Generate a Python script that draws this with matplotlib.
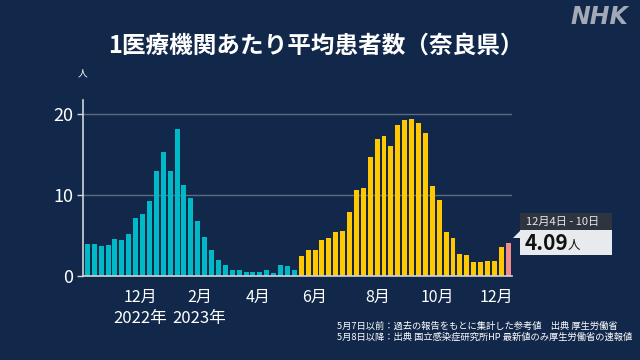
import numpy as np
import matplotlib
matplotlib.use("Agg")
import matplotlib.pyplot as plt
from matplotlib.patches import Rectangle, Polygon

plt.rcParams['font.family'] = ['Noto Sans CJK JP', 'DejaVu Sans']

# weekly average patients per medical institution (Nara), Oct 2022 - Dec 2023
before = [3.9, 4.0, 3.75, 3.8, 4.55, 4.4, 5.15, 7.2, 7.7, 9.2,
          13.0, 15.3, 12.9, 18.1, 11.2, 9.6, 6.75, 4.8, 3.2, 2.0,
          1.3, 0.8, 0.8, 0.5, 0.5, 0.5, 0.7, 0.4, 1.35, 1.2, 0.8]
after = [2.5, 3.25, 3.25, 4.5, 4.65, 5.4, 5.6, 7.9, 10.6, 10.9,
         14.7, 16.9, 17.3, 16.0, 18.6, 19.25, 19.4, 18.9, 17.6, 11.1,
         9.4, 5.4, 4.65, 2.75, 2.55, 1.7, 1.75, 1.9, 1.9, 3.6]
latest = 4.09
latest_label = '12月4日 - 10日'

month_ticks = [7.7, 16.3, 24.7, 33.0, 42.1, 50.8, 59.3]
month_labels = ['12月', '2月', '4月', '6月', '8月', '10月', '12月']
year_labels = ['2022年', '2023年']

bg = '#12284a'
teal = '#00b9c6'
yellow = '#ffc800'
pink = '#f08c8c'

fig = plt.figure(figsize=(6.4, 3.6), dpi=100, facecolor=bg)
ax = fig.add_axes([0.130, 0.2333, 0.670, 0.489])
ax.set_facecolor(bg)

n1 = len(before)
n2 = len(after)
x1 = np.arange(n1)
x2 = np.arange(n1, n1 + n2)
x3 = n1 + n2
w = 0.72
ax.bar(x1, before, width=w, color=teal, zorder=3)
ax.bar(x2, after, width=w, color=yellow, zorder=3)
ax.bar([x3], [latest], width=w, color=pink, zorder=3)

ax.set_xlim(-0.6, x3 + 0.55)
ax.set_ylim(0, 21.7)
ax.set_yticks([0, 10, 20])
ax.yaxis.grid(True, color='#5b6a80', linewidth=1.0, zorder=1)
ax.tick_params(axis='y', colors='#d0d4da', length=4, width=1, pad=3,
               labelsize=13, labelcolor='white')
ax.set_xticks(month_ticks)
ax.set_xticklabels(month_labels)
ax.tick_params(axis='x', length=0, pad=9, labelsize=11.5, labelcolor='white')

for s in ['top', 'right']:
    ax.spines[s].set_visible(False)
for s in ['left', 'bottom']:
    ax.spines[s].set_color('#d0d4da')
    ax.spines[s].set_linewidth(1.2)
    ax.spines[s].set_zorder(4)

fig.text(140 / 640, 1 - 318 / 360, year_labels[0], color='white', fontsize=12,
         ha='center', va='center')
fig.text(199 / 640, 1 - 318 / 360, year_labels[1], color='white', fontsize=12,
         ha='center', va='center')
fig.text(83 / 640, 1 - 73 / 360, '人', color='white', fontsize=7,
         ha='center', va='center')

fig.text(316 / 640, 1 - 46 / 360, '1医療機関あたり平均患者数（奈良県）', color='white',
         fontsize=17, fontweight='bold', ha='center', va='center')
fig.text(628 / 640, 1 - 17 / 360, 'NHK', color='#a3aab5', fontsize=17,
         fontweight='bold', style='italic', ha='right', va='center',
         family='DejaVu Sans')

# latest value callout
fig.patches.append(Rectangle((520 / 640, 1 - 230 / 360), 92 / 640, 17 / 360,
                             transform=fig.transFigure, facecolor='#2e3540',
                             edgecolor='none'))
fig.patches.append(Rectangle((520 / 640, 1 - 255 / 360), 92 / 640, 25 / 360,
                             transform=fig.transFigure, facecolor='#e8ebee',
                             edgecolor='none'))
fig.patches.append(Polygon([(513 / 640, 1 - 238 / 360), (520 / 640, 1 - 231 / 360),
                            (520 / 640, 1 - 238 / 360)],
                           transform=fig.transFigure, facecolor='#e8ebee',
                           edgecolor='none'))
fig.text(526 / 640, 1 - 221.5 / 360, latest_label, color='#e6e8ea', fontsize=8,
         ha='left', va='center')
fig.text(525 / 640, 1 - 243 / 360, f'{latest:.2f}', color='#111111', fontsize=15,
         fontweight='bold', ha='left', va='center')
fig.text(568 / 640, 1 - 245 / 360, '人', color='#111111', fontsize=9,
         ha='left', va='center')

fig.text(337 / 640, 1 - 326 / 360,
         '5月7日以前：過去の報告をもとに集計した参考値　出典 厚生労働省',
         color='white', fontsize=6.7, ha='left', va='center')
fig.text(337 / 640, 1 - 337 / 360,
         '5月8日以降：出典 国立感染症研究所HP 最新値のみ厚生労働省の速報値',
         color='white', fontsize=6.7, ha='left', va='center')

fig.savefig('out.png', dpi=100, facecolor=bg)
